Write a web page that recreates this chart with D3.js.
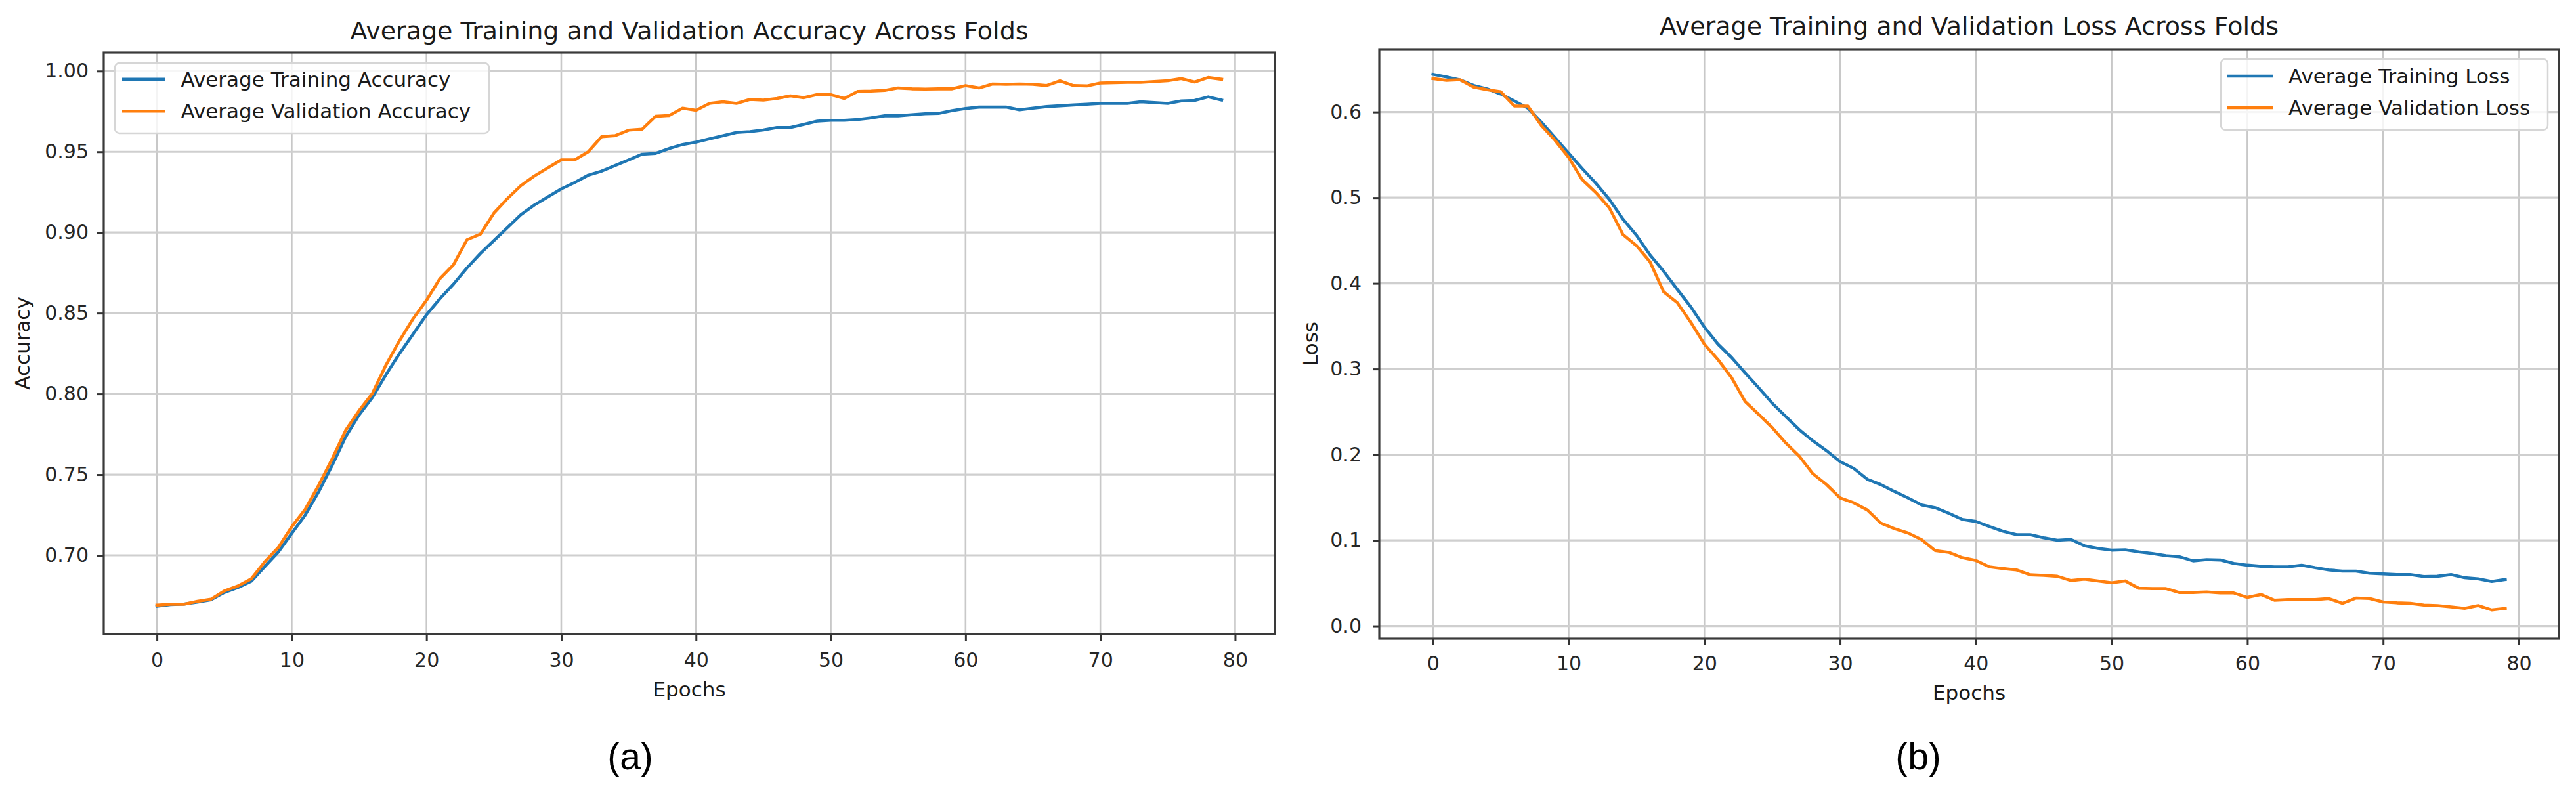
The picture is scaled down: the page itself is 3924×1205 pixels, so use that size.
<!DOCTYPE html>
<html><head><meta charset="utf-8">
<script src="https://cdn.jsdelivr.net/npm/d3@7"></script>
<style>body{margin:0;background:#fff}svg{display:block}</style>
</head><body>
<svg id="c" width="3924" height="1205"></svg>
<script>
// ---------- data ----------
const epochs = d3.range(80);
const trainAcc = [0.6685,0.6695,0.6698,0.671,0.6725,0.677,0.680,0.684,0.693,0.702,
0.7136,0.725,0.7394,0.7557,0.7734,0.787,0.798,0.812,0.825,0.837,
0.849,0.859,0.868,0.878,0.887,0.895,0.903,0.911,0.917,0.922,
0.927,0.931,0.9355,0.938,0.9415,0.945,0.9485,0.949,0.952,0.9545,
0.956,0.958,0.960,0.962,0.9625,0.9635,0.965,0.965,0.967,0.969,
0.9695,0.9695,0.970,0.971,0.9723,0.9723,0.973,0.9736,0.9738,0.9755,
0.9768,0.9777,0.9777,0.9777,0.976,0.977,0.978,0.9785,0.979,0.9795,
0.980,0.980,0.980,0.981,0.9805,0.980,0.9815,0.9818,0.984,0.982];
const valAcc = [0.6692,0.6697,0.6697,0.6715,0.6728,0.678,0.681,0.6855,0.696,0.7048,
0.7177,0.7285,0.7435,0.7598,0.7774,0.7897,0.8005,0.818,0.833,0.8465,
0.858,0.8715,0.880,0.8955,0.899,0.912,0.921,0.929,0.935,0.940,
0.945,0.945,0.950,0.9594,0.960,0.9634,0.964,0.972,0.9725,0.977,
0.9757,0.980,0.981,0.980,0.9824,0.982,0.983,0.9847,0.9835,0.9855,
0.9854,0.983,0.9874,0.9876,0.988,0.9895,0.989,0.9888,0.989,0.989,
0.991,0.9895,0.992,0.9918,0.992,0.9918,0.991,0.9939,0.991,0.9908,
0.9926,0.9928,0.993,0.993,0.9935,0.994,0.9953,0.9932,0.996,0.9949];
const trainLoss = [0.644,0.641,0.6375,0.631,0.627,0.621,0.613,0.6045,0.588,0.570,
0.552,0.534,0.517,0.498,0.475,0.456,0.433,0.414,0.393,0.3725,
0.349,0.329,0.3135,0.2955,0.278,0.260,0.2445,0.229,0.216,0.2046,
0.1918,0.184,0.1713,0.165,0.157,0.1495,0.1413,0.138,0.1315,0.1244,
0.122,0.116,0.1105,0.1065,0.1065,0.103,0.100,0.101,0.0936,0.0905,
0.0885,0.089,0.0864,0.0846,0.082,0.0808,0.076,0.0774,0.077,0.073,
0.071,0.0697,0.069,0.069,0.071,0.068,0.0654,0.064,0.064,0.0615,
0.0608,0.060,0.060,0.0577,0.058,0.060,0.0564,0.055,0.052,0.0543];
const valLoss = [0.639,0.637,0.6377,0.629,0.626,0.6236,0.607,0.607,0.584,0.567,
0.547,0.521,0.506,0.488,0.457,0.444,0.425,0.390,0.3775,0.3545,
0.329,0.311,0.290,0.262,0.247,0.2315,0.2135,0.198,0.1776,0.165,
0.1495,0.1438,0.1354,0.120,0.1136,0.1085,0.1008,0.088,0.0859,0.0797,
0.0764,0.069,0.067,0.0654,0.0597,0.059,0.058,0.053,0.0546,0.0526,
0.0505,0.0526,0.044,0.0436,0.0436,0.039,0.039,0.0397,0.0385,0.0385,
0.0333,0.0367,0.030,0.0308,0.0308,0.0308,0.032,0.0264,0.0326,0.032,
0.028,0.027,0.0264,0.0244,0.0238,0.0223,0.0205,0.0238,0.0187,0.0205];
const xTicks = [0,10,20,30,40,50,60,70,80];
const accTicks = [0.70,0.75,0.80,0.85,0.90,0.95,1.00];
const lossTicks = [0.0,0.1,0.2,0.3,0.4,0.5,0.6];
const accNames = ["Average Training Accuracy","Average Validation Accuracy"];
const lossNames = ["Average Training Loss","Average Validation Loss"];
const titles = ["Average Training and Validation Accuracy Across Folds","Average Training and Validation Loss Across Folds"];
const yLabels = ["Accuracy","Loss"];
const xLabel = "Epochs";
const panelTags = ["(a)","(b)"];

// ---------- drawing ----------
const svg = d3.select("#c");
svg.append("rect").attr("width",3924).attr("height",1205).attr("fill","#fff");
const BLUE="#1f77b4", ORANGE="#ff7f0e";
const FONT="DejaVu Sans, sans-serif";

function panel(o){
  const x = d3.scaleLinear().domain([-3.95,82.95]).range([o.L,o.R]);
  const y = d3.scaleLinear().domain(o.yDomain).range([o.B,o.T]);
  const g = svg.append("g");
  // grid
  g.append("g").selectAll("line").data(xTicks).join("line")
    .attr("x1",d=>x(d)).attr("x2",d=>x(d)).attr("y1",o.T).attr("y2",o.B)
    .attr("stroke","#c8c8c8").attr("stroke-width",2.6);
  g.append("g").selectAll("line").data(o.yTicks).join("line")
    .attr("x1",o.L).attr("x2",o.R).attr("y1",d=>y(d)).attr("y2",d=>y(d))
    .attr("stroke","#cfcfcf").attr("stroke-width",3.2);
  // lines
  const line = d3.line().x((d,i)=>x(epochs[i])).y(d=>y(d));
  o.series.forEach((s,k)=>{
    g.append("path").datum(s).attr("d",line).attr("fill","none")
      .attr("stroke",k?ORANGE:BLUE).attr("stroke-width",4.6)
      .attr("stroke-linejoin","round").attr("stroke-linecap","square");
  });
  // axes
  const ax = g.append("g").attr("transform",`translate(0,${o.B})`)
    .call(d3.axisBottom(x).tickValues(xTicks).tickSize(10).tickPadding(o.xPad).tickFormat(d3.format("d")));
  const ay = g.append("g").attr("transform",`translate(${o.L},0)`)
    .call(d3.axisLeft(y).tickValues(o.yTicks).tickSize(10).tickPadding(o.yPad).tickFormat(d3.format(o.fmt)));
  [ax,ay].forEach(a=>{
    a.select(".domain").remove();
    a.selectAll(".tick line").attr("stroke","#333").attr("stroke-width",3);
    a.selectAll(".tick text").attr("font-family",FONT).attr("font-size",30).attr("fill","#262626");
  });
  // frame
  g.append("rect").attr("x",o.L).attr("y",o.T).attr("width",o.R-o.L).attr("height",o.B-o.T)
    .attr("fill","none").attr("stroke","#3a3a3a").attr("stroke-width",3.2);
  // title
  g.append("text").attr("x",(o.L+o.R)/2).attr("y",o.titleY).attr("text-anchor","middle")
    .attr("font-family",FONT).attr("font-size",38).attr("fill","#1a1a1a").text(o.title);
  // axis labels
  g.append("text").attr("x",(o.L+o.R)/2).attr("y",o.xLabY).attr("text-anchor","middle")
    .attr("font-family",FONT).attr("font-size",31).attr("fill","#1a1a1a").text(xLabel);
  g.append("text").attr("transform",`translate(${o.yLabX},${(o.T+o.B)/2}) rotate(-90)`)
    .attr("text-anchor","middle").attr("font-family",FONT).attr("font-size",31).attr("fill","#1a1a1a").text(o.yLabel);
  // legend
  const lg = g.append("g");
  lg.append("rect").attr("x",o.leg.x).attr("y",o.leg.y).attr("width",o.leg.w).attr("height",o.leg.h)
    .attr("rx",7).attr("fill","#fff").attr("fill-opacity",0.8).attr("stroke","#d6d6d6").attr("stroke-width",2.5);
  o.names.forEach((n,k)=>{
    const cy = o.leg.rows[k];
    lg.append("line").attr("x1",o.leg.hx1).attr("x2",o.leg.hx2).attr("y1",cy).attr("y2",cy)
      .attr("stroke",k?ORANGE:BLUE).attr("stroke-width",4.6);
    lg.append("text").attr("x",o.leg.tx).attr("y",cy+11).attr("font-family",FONT).attr("font-size",31)
      .attr("fill","#1a1a1a").text(n);
  });
  // panel tag
  svg.append("text").attr("x",o.tagX).attr("y",1172).attr("text-anchor","middle")
    .attr("font-family","Liberation Sans, Arial, sans-serif").attr("font-size",57).attr("fill","#000").text(o.tag);
}

panel({L:158,R:1942,T:80,B:966,yDomain:[0.6512,1.0115],yTicks:accTicks,fmt:".2f",
  series:[trainAcc,valAcc],names:accNames,title:titles[0],yLabel:yLabels[0],
  titleY:60,xLabY:1061,yLabX:45,xPad:19,yPad:13,tag:panelTags[0],tagX:960,
  leg:{x:175,y:96,w:570,h:107,rows:[120.7,169.3],hx1:186,hx2:252,tx:275.5}});
panel({L:2101,R:3898,T:75,B:973,yDomain:[-0.0149,0.6733],yTicks:lossTicks,fmt:".1f",
  series:[trainLoss,valLoss],names:lossNames,title:titles[1],yLabel:yLabels[1],
  titleY:53,xLabY:1066,yLabX:2007,xPad:17,yPad:17,tag:panelTags[1],tagX:2922,
  leg:{x:3383,y:90,w:498,h:108,rows:[116,164],hx1:3393,hx2:3463,tx:3486}});
</script>
</body></html>
